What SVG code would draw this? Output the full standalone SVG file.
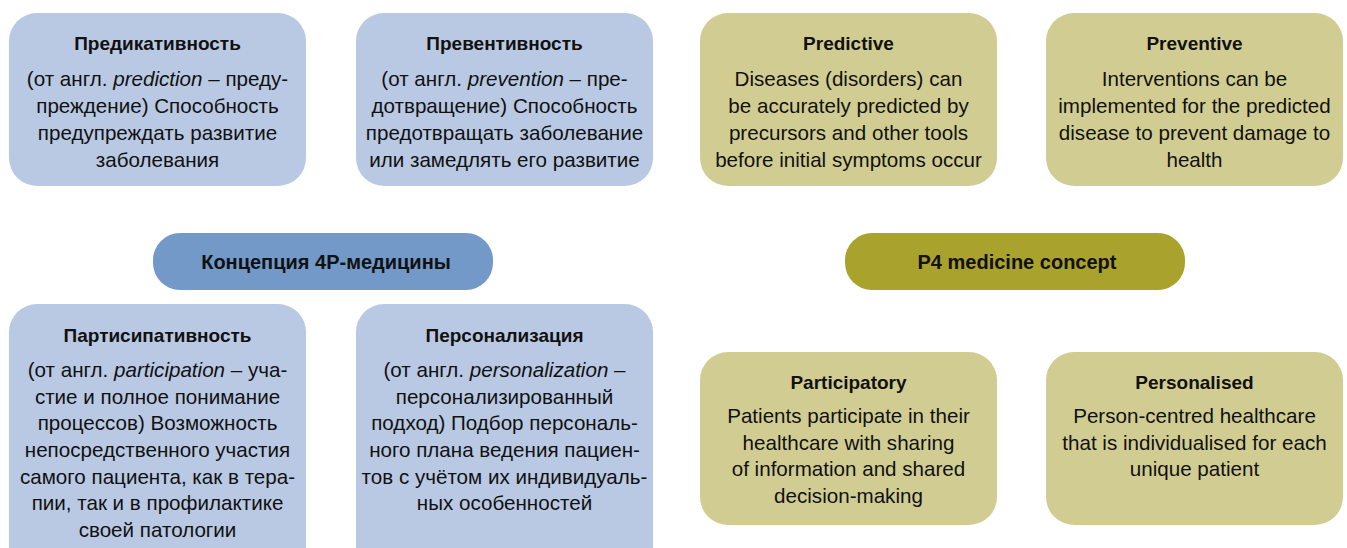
<svg xmlns="http://www.w3.org/2000/svg" width="1347" height="548" viewBox="0 0 1347 548">
<style>
  .ru { fill: #B9C9E3; }
  .en { fill: #D1CD92; }
  .pill-ru { fill: #7399C9; }
  .pill-en { fill: #A9A22C; }
  text { font-family: "Liberation Sans", Arial, sans-serif; fill: #111; text-anchor: middle; }
  .t { font-weight: bold; font-size: 19px; }
  .b { font-size: 20.6px; }
  .p { font-weight: bold; font-size: 20px; }
  .i { font-style: italic; }
</style>
<rect width="1347" height="548" fill="#fff"/>
<g id="connectors"></g>

<g id="predikativnost">
  <rect class="ru" x="9" y="13" width="297" height="173" rx="28"/>
  <text class="t" x="157.5" y="50">Предикативность</text>
  <text class="b" x="157.5" y="86">(от англ. <tspan class="i">prediction</tspan> – преду-</text>
  <text class="b" x="157.5" y="113">преждение) Способность</text>
  <text class="b" x="157.5" y="140">предупреждать развитие</text>
  <text class="b" x="157.5" y="167">заболевания</text>
</g>

<g id="preventivnost">
  <rect class="ru" x="356" y="13" width="297" height="173" rx="28"/>
  <text class="t" x="504.5" y="50">Превентивность</text>
  <text class="b" x="504.5" y="86">(от англ. <tspan class="i">prevention</tspan> – пре-</text>
  <text class="b" x="504.5" y="113">дотвращение) Способность</text>
  <text class="b" x="504.5" y="140">предотвращать заболевание</text>
  <text class="b" x="504.5" y="167">или замедлять его развитие</text>
</g>

<g id="predictive">
  <rect class="en" x="700" y="13" width="297" height="173" rx="28"/>
  <text class="t" x="848.5" y="50">Predictive</text>
  <text class="b" x="848.5" y="86">Diseases (disorders) can</text>
  <text class="b" x="848.5" y="113">be accurately predicted by</text>
  <text class="b" x="848.5" y="140">precursors and other tools</text>
  <text class="b" x="848.5" y="167">before initial symptoms occur</text>
</g>

<g id="preventive">
  <rect class="en" x="1046" y="13" width="297" height="173" rx="28"/>
  <text class="t" x="1194.5" y="50">Preventive</text>
  <text class="b" x="1194.5" y="86">Interventions can be</text>
  <text class="b" x="1194.5" y="113">implemented for the predicted</text>
  <text class="b" x="1194.5" y="140">disease to prevent damage to</text>
  <text class="b" x="1194.5" y="167">health</text>
</g>

<g id="koncepciya">
  <rect class="pill-ru" x="153" y="233" width="340" height="57" rx="27"/>
  <text class="p" x="326" y="269">Концепция 4P-медицины</text>
</g>

<g id="p4-concept">
  <rect class="pill-en" x="845" y="233" width="340" height="57" rx="27"/>
  <text class="p" x="1017" y="269">P4 medicine concept</text>
</g>

<g id="participativnost">
  <rect class="ru" x="9" y="304" width="297" height="274" rx="28"/>
  <text class="t" x="157.5" y="342">Партисипативность</text>
  <text class="b" x="157.5" y="377">(от англ. <tspan class="i">participation</tspan> – уча-</text>
  <text class="b" x="157.5" y="404">стие и полное понимание</text>
  <text class="b" x="157.5" y="430">процессов) Возможность</text>
  <text class="b" x="157.5" y="457">непосредственного участия</text>
  <text class="b" x="157.5" y="484">самого пациента, как в тера-</text>
  <text class="b" x="157.5" y="510">пии, так и в профилактике</text>
  <text class="b" x="157.5" y="537">своей патологии</text>
</g>

<g id="personalizaciya">
  <rect class="ru" x="356" y="304" width="297" height="274" rx="28"/>
  <text class="t" x="504.5" y="342">Персонализация</text>
  <text class="b" x="504.5" y="377">(от англ. <tspan class="i">personalization</tspan> –</text>
  <text class="b" x="504.5" y="404">персонализированный</text>
  <text class="b" x="504.5" y="430">подход) Подбор персональ-</text>
  <text class="b" x="504.5" y="457">ного плана ведения пациен-</text>
  <text class="b" x="504.5" y="484">тов с учётом их индивидуаль-</text>
  <text class="b" x="504.5" y="510">ных особенностей</text>
</g>

<g id="participatory">
  <rect class="en" x="700" y="352" width="297" height="173" rx="28"/>
  <text class="t" x="848.5" y="389">Participatory</text>
  <text class="b" x="848.5" y="423">Patients participate in their</text>
  <text class="b" x="848.5" y="450">healthcare with sharing</text>
  <text class="b" x="848.5" y="476">of information and shared</text>
  <text class="b" x="848.5" y="503">decision-making</text>
</g>

<g id="personalised">
  <rect class="en" x="1046" y="352" width="297" height="173" rx="28"/>
  <text class="t" x="1194.5" y="389">Personalised</text>
  <text class="b" x="1194.5" y="423">Person-centred healthcare</text>
  <text class="b" x="1194.5" y="450">that is individualised for each</text>
  <text class="b" x="1194.5" y="476">unique patient</text>
</g>
</svg>
